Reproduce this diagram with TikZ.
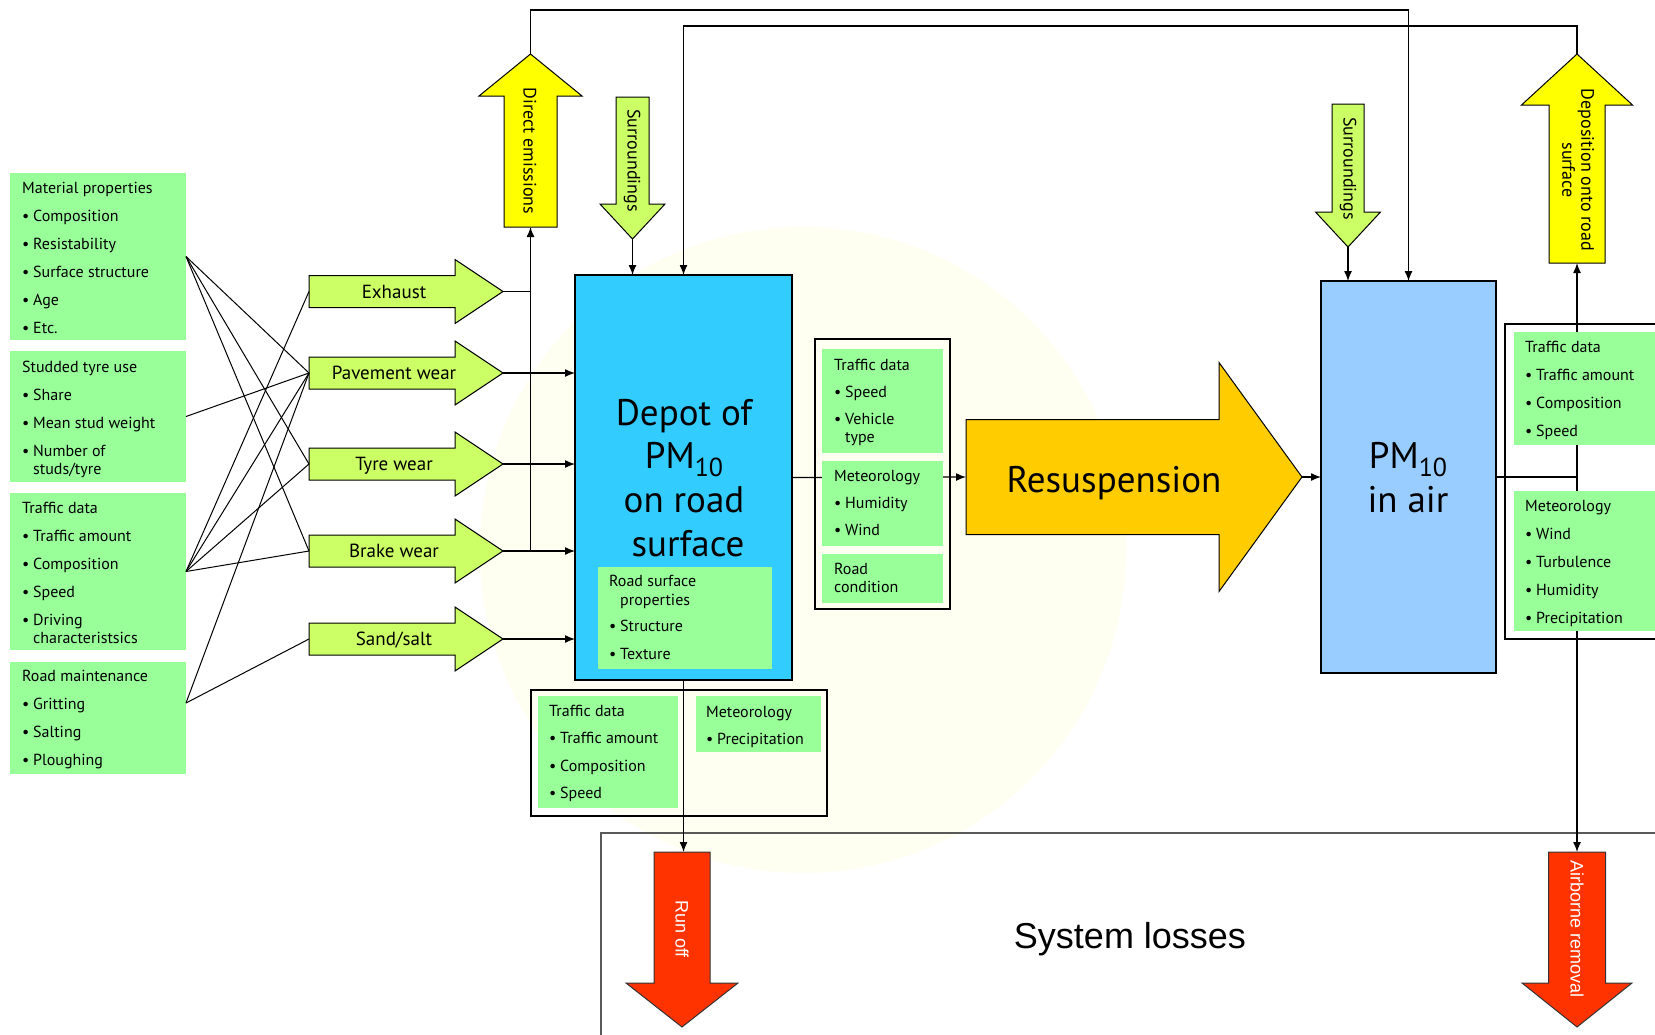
\documentclass[tikz,border=0pt]{standalone}
\usepackage{fontspec}
\setmainfont{PT Sans}
\newfontfamily\arialfont{Liberation Sans}
\usetikzlibrary{arrows.meta}
\definecolor{boxgreen}{HTML}{99FF99}
\definecolor{arrgreen}{HTML}{CCFF66}
\definecolor{arryellow}{HTML}{FFFF00}
\definecolor{depotblue}{HTML}{33CCFF}
\definecolor{airblue}{HTML}{99CCFF}
\definecolor{resorange}{HTML}{FFCC00}
\definecolor{lossred}{HTML}{FF3300}
\definecolor{wmark}{HTML}{FFFFF1}
% horizontal arrow: style, name, x tail, x head start, x tip, y centre, body half, head half
\newcommand\harr[8]{%
  \draw[#1] (#3,#6-#7) -- (#4,#6-#7) -- (#4,#6-#8) -- (#5,#6) -- (#4,#6+#8) -- (#4,#6+#7) -- (#3,#6+#7) -- cycle;
  \coordinate (#2-tail) at (#3,#6);
  \coordinate (#2-tip) at (#5,#6);}
% vertical arrow: style, name, x centre, y tail, y head start, y tip, body half, head half
\newcommand\varr[8]{%
  \draw[#1] (#3-#7,#4) -- (#3-#7,#5) -- (#3-#8,#5) -- (#3,#6) -- (#3+#8,#5) -- (#3+#7,#5) -- (#3+#7,#4) -- cycle;
  \coordinate (#2-tail) at (#3,#4);
  \coordinate (#2-tip) at (#3,#6);}
% green box: name, x1, y1, x2, y2
\newcommand\gbx[5]{\node[gbox,minimum width={#4-#2},minimum height={#5-#3}] (#1) at (#2,#3) {};}
\newcommand\bul{\makebox[11pt][l]{\textbullet}}
\newcommand\hang{\hspace*{11pt}}
\newcommand\fl{\rule{0pt}{13pt}}
\newcommand\pmten{PM\raisebox{-8pt}{\fontsize{26}{26}\selectfont 10}}
\begin{document}
\begin{tikzpicture}[x=1pt,y=-1pt,
  conn/.style={draw=black,line width=1.3pt},
  arr/.style={conn,-{Latex[length=10pt,width=8pt]}},
  gbox/.style={fill=boxgreen,draw=none,inner sep=0pt,outer sep=0pt,anchor=north west},
  bframe/.style={draw=black,line width=1.2pt,inner sep=0pt,outer sep=0pt,anchor=north west},
  stxt/.style={anchor=north west,inner sep=0pt,align=left,font=\fontsize{16}{18}\selectfont},
  garrow/.style={fill=arrgreen,draw=black,line width=1pt},
  yarrow/.style={fill=arryellow,draw=black,line width=1pt},
  oarrow/.style={fill=resorange,draw=black,line width=1pt},
  rarrow/.style={fill=lossred,draw=black!80,line width=1pt},
  glabel/.style={font=\fontsize{19}{21}\selectfont,inner sep=0pt,anchor=base},
  vlabel/.style={font=\fontsize{18}{19}\selectfont,inner sep=0pt,rotate=-90,align=center},
  wlabel/.style={font=\arialfont\fontsize{18}{20}\selectfont,text=white,inner sep=0pt,rotate=-90},
  big/.style={font=\fontsize{37}{44}\selectfont,inner sep=0pt,anchor=base}]
\path[use as bounding box] (0,0) rectangle (1655,1034);
% faint watermark
\fill[wmark] (803,550) circle[radius=323];
% frames
\node[bframe,minimum width=135,minimum height=270] (midframe) at (815,339) {};
\node[bframe,minimum width=200,minimum height=315] (rightframe) at (1505,324) {};
\node[bframe,minimum width=296,minimum height=126] (botframe) at (531,690) {};
\node[bframe,draw=black!65,minimum width=1100,minimum height=300] (lossbox) at (601,833) {};
% main boxes
\node[anchor=north west,fill=depotblue,draw=black,line width=1.3pt,inner sep=0pt,outer sep=0pt,minimum width=217,minimum height=405] (depot) at (575,275) {};
\node[anchor=north west,fill=airblue,draw=black,line width=1.3pt,inner sep=0pt,outer sep=0pt,minimum width=175,minimum height=392] (pm) at (1321,281) {};
% arrow shapes
\harr{garrow}{exh}{309}{455}{503}{291.5}{16}{32}
\harr{garrow}{pav}{309}{455}{503}{373}{16}{32}
\harr{garrow}{tyr}{309}{455}{503}{464}{16}{32}
\harr{garrow}{brk}{309}{455}{503}{551}{16}{32}
\harr{garrow}{snd}{309}{455}{503}{639}{16}{32}
\varr{yarrow}{de}{530.5}{227}{96}{54}{26.5}{51.5}
\varr{garrow}{sl}{632.5}{97}{204}{239}{16.5}{32.5}
\varr{garrow}{sr}{1348}{104}{212}{247}{16}{32.5}
\varr{yarrow}{dep}{1577}{263}{105}{54}{28}{55.5}
\varr{rarrow}{ro}{682}{852}{983}{1027}{28}{56}
\varr{rarrow}{air}{1577}{852}{983}{1027}{28.5}{55}
\harr{oarrow}{res}{966}{1219}{1302}{477}{57.5}{114.5}
% arrow labels
\node[glabel] (exhl) at (394,298) {Exhaust};
\node[glabel] (pavl) at (394,379.5) {Pavement wear};
\node[glabel] (tyrl) at (394,470.5) {Tyre wear};
\node[glabel] (brkl) at (394,557.5) {Brake wear};
\node[glabel] (sndl) at (394,645.5) {Sand/salt};
\node[vlabel] (del) at (530,151) {Direct emissions};
\node[vlabel] (sll) at (632,160.5) {Surroundings};
\node[vlabel] (srl) at (1348,168.5) {Surroundings};
\node[vlabel] (depl) at (1578,170) {Deposition onto road\\surface};
\node[wlabel] (rol) at (682,929) {Run off};
\node[wlabel] (airl) at (1577,929) {Airborne removal};
\node[font=\fontsize{37}{44}\selectfont,inner sep=0pt,anchor=base] (resl) at (1114,492) {Resuspension};
\node[font=\arialfont\fontsize{36}{40}\selectfont,inner sep=0pt,anchor=base] (sysl) at (1130,948) {System losses};
% connectors passing behind the green boxes
\coordinate (top1) at (0,10);
\coordinate (top2) at (0,26);
\draw[arr] (de-tip) -- (de-tip |- top1) -| (pm.north);
\draw[arr] (dep-tip) -- (dep-tip |- top2) -| (depot.north);
\draw[arr] (sl-tip) -- (sl-tip |- depot.north);
\draw[arr] (sr-tip) -- (sr-tip |- pm.north);
\draw[arr] (depot.east) -- (res-tail);
\draw[arr] (res-tip) -- (pm.west);
\coordinate (vj) at (pm.east -| dep-tail);
\draw[conn] (pm.east) -- (vj);
\draw[arr] (vj) -- (dep-tail);
\draw[arr] (vj) -- (air-tail);
\draw[arr] (depot.south) -- (depot.south |- ro-tail);
\coordinate (busbot) at (de-tail |- brk-tip);
\draw[arr] (busbot) -- (de-tail);
\draw[conn] (exh-tip) -- (exh-tip -| de-tail);
\draw[arr] (pav-tip) -- (pav-tip -| depot.west);
\draw[arr] (tyr-tip) -- (tyr-tip -| depot.west);
\draw[arr] (brk-tip) -- (brk-tip -| depot.west);
\draw[arr] (snd-tip) -- (snd-tip -| depot.west);
% depot and air texts
\node[big] (dl1) at (684,425) {Depot of};
\node[big] (dl2) at (684,468) {\pmten};
\node[big] (dl3) at (684,512) {on road};
\node[big] (dl4) at (688,556) {surface};
\node[big] (pl1) at (1408,468) {\pmten};
\node[big] (pl2) at (1408,512) {in air};
% green boxes
\gbx{mat}{10}{173}{186}{340}
\gbx{stud}{10}{351}{186}{482}
\gbx{traf}{10}{493}{186}{650}
\gbx{rm}{10}{662}{186}{774}
\gbx{rsp}{598}{567}{772}{669}
\gbx{mtd}{822}{349}{943}{453}
\gbx{mmet}{822}{461}{943}{546}
\gbx{mrc}{822}{554}{943}{603}
\gbx{rtd}{1514}{332}{1700}{445}
\gbx{rmet}{1514}{491}{1700}{631}
\gbx{btd}{538}{696}{678}{808}
\gbx{bmet}{696}{696}{821}{752}
% box texts
\node[stxt] (matt) at (22,180) {\fl Material properties\\[10pt]\bul Composition\\[10pt]\bul Resistability\\[10pt]\bul Surface structure\\[10pt]\bul Age\\[10pt]\bul Etc.};
\node[stxt] (studt) at (22,359) {\fl Studded tyre use\\[10pt]\bul Share\\[10pt]\bul Mean stud weight\\[10pt]\bul Number of\\\hang studs/tyre};
\node[stxt] (traft) at (22,500) {\fl Traffic data\\[10pt]\bul Traffic amount\\[10pt]\bul Composition\\[10pt]\bul Speed\\[10pt]\bul Driving\\\hang characteristsics};
\node[stxt] (rmt) at (22,668) {\fl Road maintenance\\[10pt]\bul Gritting\\[10pt]\bul Salting\\[10pt]\bul Ploughing};
\node[stxt] (rspt) at (609,573) {\fl Road surface\\[1pt]\hang properties\\[8pt]\bul Structure\\[10pt]\bul Texture};
\node[stxt] (mtdt) at (834,357) {\fl Traffic data\\[9pt]\bul Speed\\[9pt]\bul Vehicle\\\hang type};
\node[stxt] (mmett) at (834,468) {\fl Meteorology\\[9pt]\bul Humidity\\[9pt]\bul Wind};
\node[stxt] (mrct) at (834,561) {\fl Road\\condition};
\node[stxt] (rtdt) at (1525,339) {\fl Traffic data\\[10pt]\bul Traffic amount\\[10pt]\bul Composition\\[10pt]\bul Speed};
\node[stxt] (rmett) at (1525,498) {\fl Meteorology\\[10pt]\bul Wind\\[10pt]\bul Turbulence\\[10pt]\bul Humidity\\[10pt]\bul Precipitation};
\node[stxt] (btdt) at (549,703) {\fl Traffic data\\[9.5pt]\bul Traffic amount\\[9.5pt]\bul Composition\\[9.5pt]\bul Speed};
\node[stxt] (bmett) at (706,704) {\fl Meteorology\\[9pt]\bul Precipitation};
% connectors from the left boxes
\coordinate (rmout) at ([yshift=15pt]rm.east);
\draw[conn,line width=1pt] (mat.east) -- (pav-tail);
\draw[conn,line width=1pt] (mat.east) -- (tyr-tail);
\draw[conn,line width=1pt] (mat.east) -- (brk-tail);
\draw[conn,line width=1pt] (stud.east) -- (pav-tail);
\draw[conn,line width=1pt] (traf.east) -- (exh-tail);
\draw[conn,line width=1pt] (traf.east) -- (pav-tail);
\draw[conn,line width=1pt] (traf.east) -- (tyr-tail);
\draw[conn,line width=1pt] (traf.east) -- (brk-tail);
\draw[conn,line width=1pt] (rmout) -- (pav-tail);
\draw[conn,line width=1pt] (rmout) -- (snd-tail);
\end{tikzpicture}
\end{document}
